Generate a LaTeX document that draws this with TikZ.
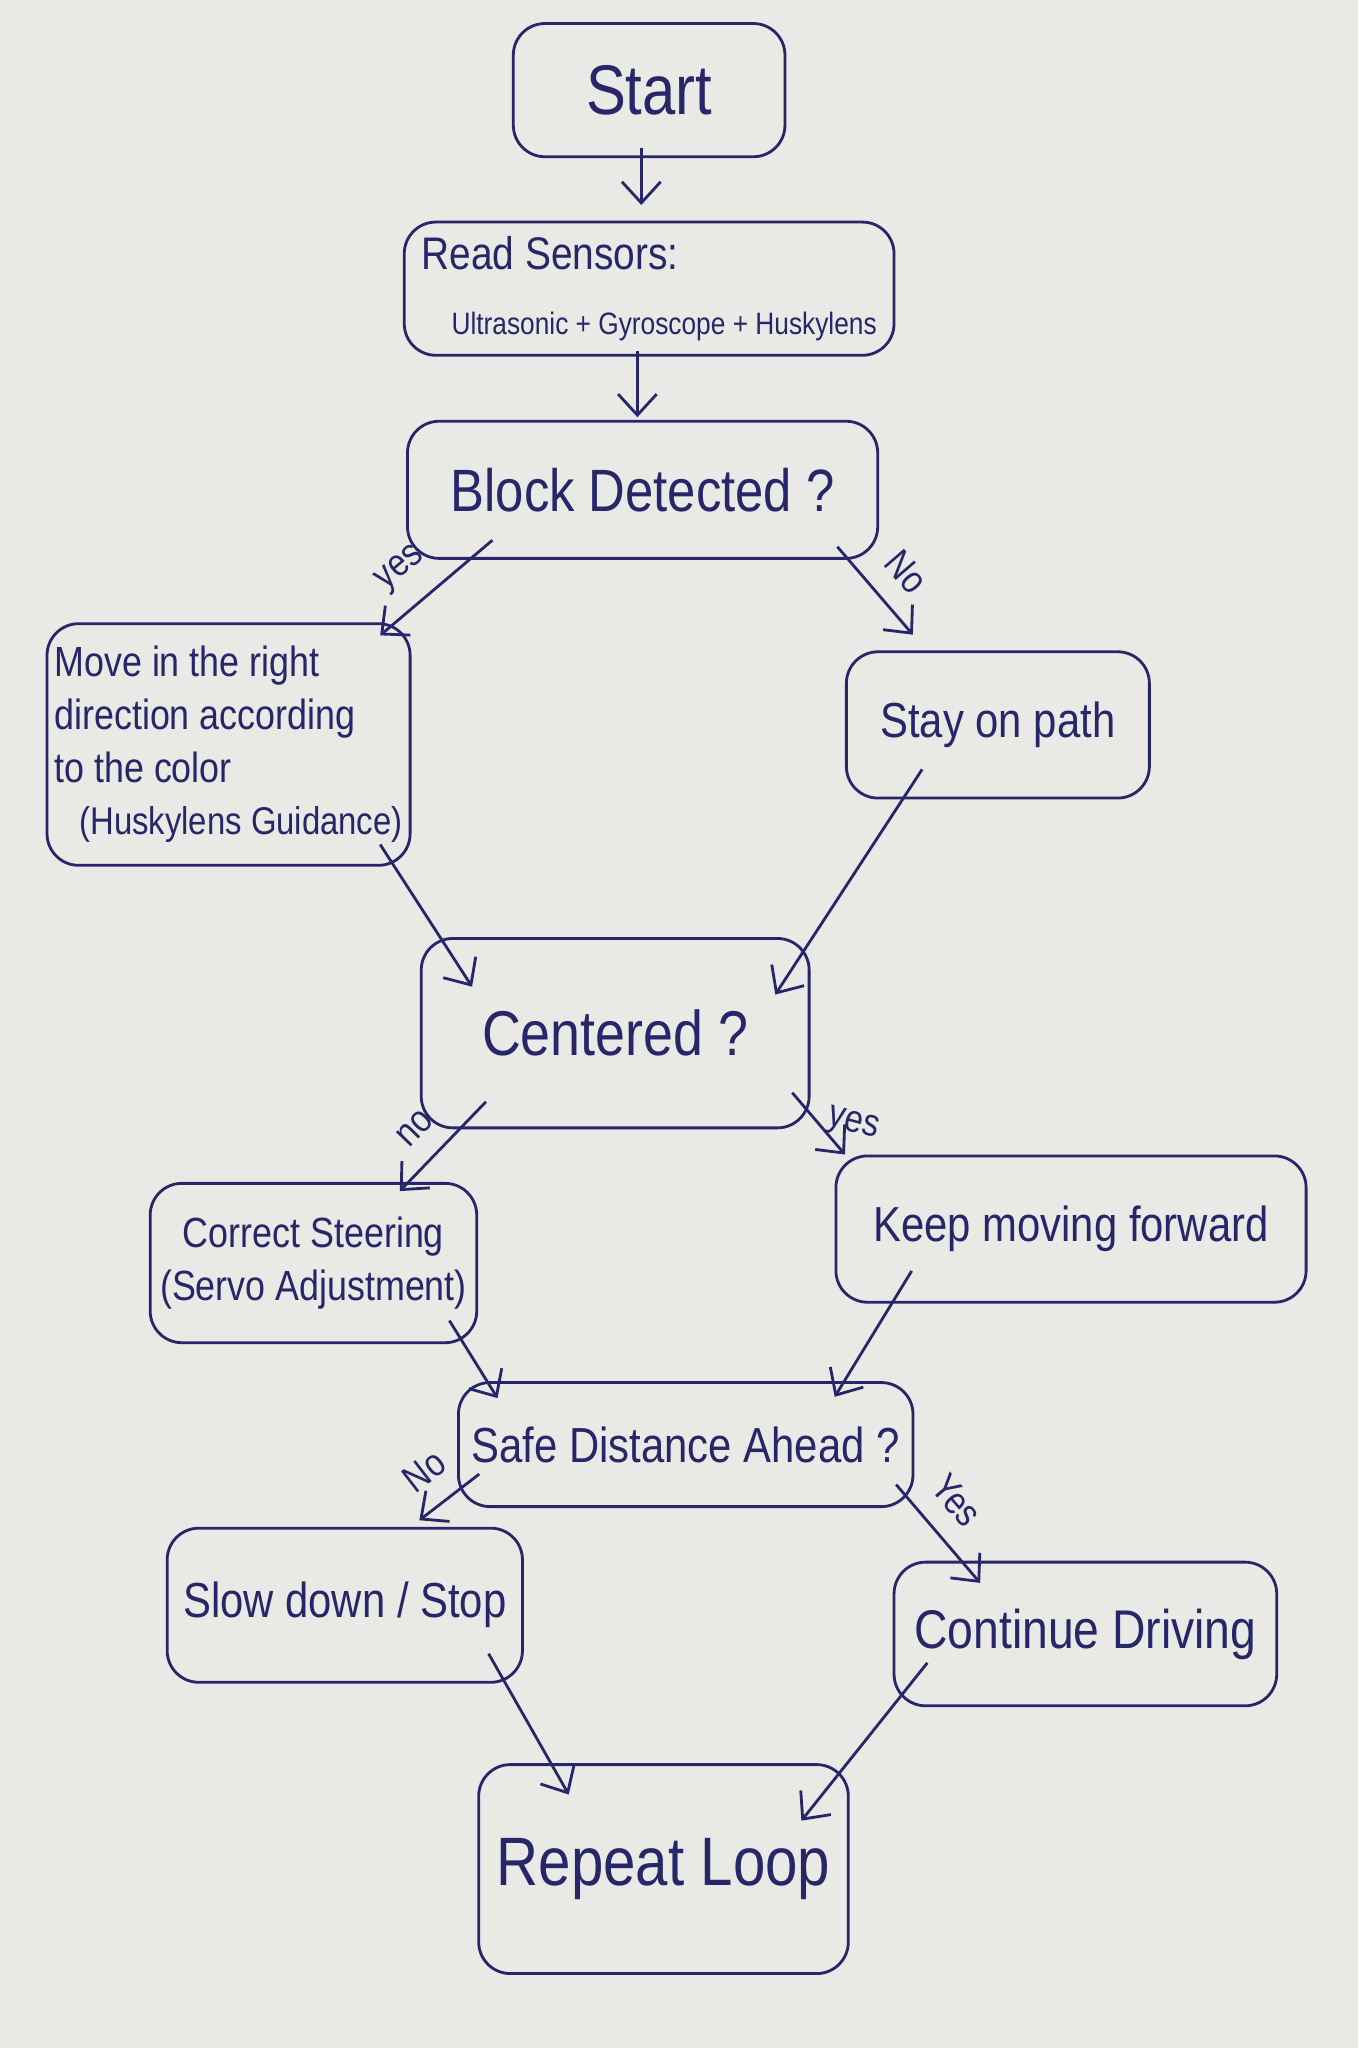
\documentclass[tikz,border=0pt]{standalone}
\usepackage{fontspec}
\setmainfont[FakeStretch=0.85]{Liberation Sans}
\usetikzlibrary{arrows.meta,calc}
\definecolor{ink}{RGB}{38,38,105}
\definecolor{paper}{RGB}{233,233,230}
\def\px{0.013058cm}
\newcommand\fsz[1]{\fontsize{#1}{1.25\dimexpr#1pt\relax}\selectfont}

\begin{document}
\begin{tikzpicture}[x=\px,y=-\px,
    box/.style={draw=ink, line width=0.8pt, rounded corners=9pt, text=ink, inner sep=2pt, align=center},
    arr/.style={draw=ink, line width=0.8pt, -{Straight Barb[length=6pt,width=11pt]}},
    lbl/.style={text=ink, font=\fsz{11}, inner sep=1pt}]
  \fill[paper] (0,0) rectangle (1040,1568);
  \useasboundingbox (0,0) rectangle (1040,1568);

  \node[box, minimum width=208*\px, minimum height=102*\px, font=\fsz{20}] (S) at (497,69) {Start};
  \node[box, minimum width=375*\px, minimum height=102*\px, font=\fsz{13}, align=left] (R) at (497,221)
    {Read Sensors:\\[2pt]\hspace*{0.3cm}{\fsz{8.8}Ultrasonic + Gyroscope + Huskylens}};
  \node[box, minimum width=360*\px, minimum height=105*\px, font=\fsz{17}] (B) at (492,375) {Block Detected ?};
  \node[box, minimum width=278*\px, minimum height=185*\px, font=\fsz{12}, align=left] (M) at (175,570)
    {Move in the right\\direction according\\to the color\\\hspace*{0.25cm}{\fsz{11}(Huskylens Guidance)}};
  \node[box, minimum width=232*\px, minimum height=112*\px, font=\fsz{14}] (P) at (764,555) {Stay on path};
  \node[box, minimum width=297*\px, minimum height=145*\px, font=\fsz{18}] (C) at (471,791) {Centered ?};
  \node[box, minimum width=250*\px, minimum height=122*\px, font=\fsz{12}] (W) at (240,967)
    {Correct Steering\\(Servo Adjustment)};
  \node[box, minimum width=360*\px, minimum height=112*\px, font=\fsz{14}] (K) at (820,941) {Keep moving forward};
  \node[box, minimum width=348*\px, minimum height=95*\px, font=\fsz{14}] (D) at (525,1106) {Safe Distance Ahead ?};
  \node[box, minimum width=272*\px, minimum height=118*\px, font=\fsz{14}] (L) at (264,1229) {Slow down / Stop};
  \node[box, minimum width=293*\px, minimum height=110*\px, font=\fsz{15.5}] (T) at (831,1251) {Continue Driving};
  \node[box, minimum width=283*\px, minimum height=160*\px, font=\fsz{19.5}] (E) at (508,1431) {Repeat Loop};

  \draw[arr] ($(S.south)+(-6,-8)$) -- ($(R.north)+(-6,-12)$);
  \draw[arr] ($(R.south)+(-9,-4)$) -- ($(B.north)+(-4,-2)$);
  \draw[arr] ($(B.south)+(-115,-15)$) -- ($(M.north east)+(-24,10)$)
    node[pos=0.6, lbl, sloped, above=5pt] {yes};
  \draw[arr] ($(B.south east)+(-32,-10)$) -- ($(P.north west)+(52,-12)$)
    node[pos=0.55, lbl, sloped, above=5pt] {No};
  \draw[arr] ($(M.south east)+(-24,-17)$) -- ($(C.north west)+(40,38)$);
  \draw[arr] ($(P.south)+(-58,-23)$) -- ($(C.north east)+(-27,44)$);
  \draw[arr] ($(C.south)+(-99,-21)$) -- ($(W.north east)+(-60,7)$)
    node[pos=0.55, lbl, sloped, above=5pt] {no};
  \draw[arr] ($(C.south east)+(-14,-28)$) -- ($(K.north west)+(8,0)$)
    node[pos=0.4, lbl, right=3pt, rotate=-15] {yes};
  \draw[arr] ($(W.south east)+(-22,-18)$) -- ($(D.north west)+(31,13)$);
  \draw[arr] ($(K.south)+(-122,-25)$) -- ($(D.north east)+(-61,12)$);
  \draw[arr] ($(D.south west)+(17,-26)$) -- ($(L.north east)+(-80,-5)$)
    node[pos=0.55, lbl, sloped, above=5pt] {No};
  \draw[arr] ($(D.south east)+(-14,-18)$) -- ($(T.north west)+(67,17)$)
    node[pos=0.4, lbl, sloped, above=5pt] {Yes};
  \draw[arr] ($(L.south east)+(-27,-23)$) -- ($(E.north west)+(70,24)$);
  \draw[arr] ($(T.south)+(-121,-34)$) -- ($(E.north east)+(-37,44)$);
\end{tikzpicture}
\end{document}
